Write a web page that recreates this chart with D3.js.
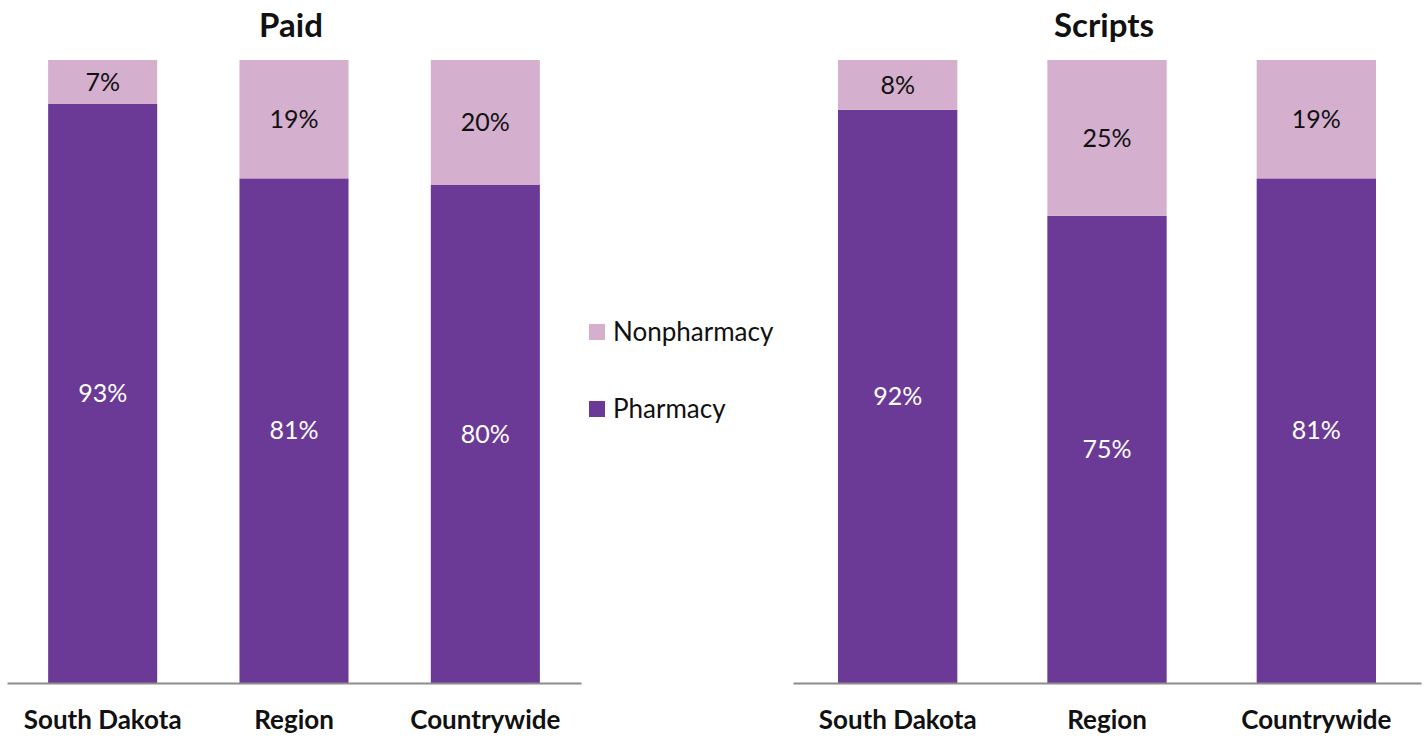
<!DOCTYPE html>
<html>
<head>
<meta charset="utf-8">
<script src="https://cdn.jsdelivr.net/npm/d3@7/dist/d3.min.js"></script>
<style>
  html, body { margin: 0; padding: 0; background: #fff; }
  svg { display: block; }
  text { font-family: Lato, "Open Sans", sans-serif; }
</style>
</head>
<body>
<svg id="chart" width="1426" height="738"></svg>
<script>
// Share of spending and of prescriptions dispensed by pharmacies vs. elsewhere
const categories = ["South Dakota", "Region", "Countrywide"];
const seriesNames = ["Pharmacy", "Nonpharmacy"];
const paidPharmacy = [93, 81, 80];
const paidNonpharmacy = [7, 19, 20];
const scriptsPharmacy = [92, 75, 81];
const scriptsNonpharmacy = [8, 25, 19];
const panelTitles = ["Paid", "Scripts"];

const colors = { Pharmacy: "#6b3a96", Nonpharmacy: "#d4afce" };

const svg = d3.select("#chart");
const plotTop = 60, plotBottom = 683;

const panels = [
  { title: panelTitles[0], pharm: paidPharmacy, non: paidNonpharmacy, x0: 7, x1: 581 },
  { title: panelTitles[1], pharm: scriptsPharmacy, non: scriptsNonpharmacy, x0: 793, x1: 1421 }
];

const y = d3.scaleLinear().domain([0, 100]).range([plotBottom, plotTop]);

panels.forEach(p => {
  const g = svg.append("g");
  const x = d3.scaleBand()
    .domain(categories)
    .range([p.x0, p.x1])
    .paddingInner(0.43)
    .paddingOuter(0.215);

  const rows = categories.map((c, i) => ({ cat: c, Pharmacy: p.pharm[i], Nonpharmacy: p.non[i] }));
  const stacked = d3.stack().keys(seriesNames)(rows);

  stacked.forEach(layer => {
    const key = layer.key;
    g.selectAll(null).data(layer).join("rect")
      .attr("x", d => x(d.data.cat))
      .attr("width", x.bandwidth())
      .attr("y", d => y(d[1]))
      .attr("height", d => y(d[0]) - y(d[1]))
      .attr("fill", colors[key]);

    g.selectAll(null).data(layer).join("text")
      .attr("x", d => x(d.data.cat) + x.bandwidth() / 2)
      .attr("y", d => (y(d[0]) + y(d[1])) / 2)
      .attr("dy", "0.35em")
      .attr("text-anchor", "middle")
      .attr("font-size", 25)
      .attr("fill", key === "Pharmacy" ? "#ffffff" : "#111111")
      .text(d => (d[1] - d[0]) + "%");
  });

  // baseline axis
  const axis = d3.axisBottom(x).tickSize(0).tickPadding(0);
  const ax = g.append("g").attr("transform", `translate(0,${plotBottom})`).call(axis);
  ax.select(".domain").attr("stroke", "#8c8c8c").attr("stroke-width", 2);
  ax.selectAll(".tick text")
    .attr("y", 37)
    .attr("dy", "0.35em")
    .attr("font-size", 26)
    .attr("font-weight", "bold")
    .attr("font-family", "Lato, 'Open Sans', sans-serif")
    .attr("fill", "#111");

  g.append("text")
    .attr("x", (p.x0 + p.x1) / 2 - 3)
    .attr("y", 25)
    .attr("dy", "0.35em")
    .attr("text-anchor", "middle")
    .attr("font-size", 33)
    .attr("font-weight", "bold")
    .attr("fill", "#111")
    .text(p.title);
});

// legend
const legendItems = ["Nonpharmacy", "Pharmacy"];
const legend = svg.append("g");
legendItems.forEach((k, i) => {
  const cy = 332 + i * 77;
  legend.append("rect")
    .attr("x", 589).attr("y", cy - 8)
    .attr("width", 16).attr("height", 16)
    .attr("fill", colors[k]);
  legend.append("text")
    .attr("x", 613).attr("y", cy)
    .attr("dy", "0.35em")
    .attr("font-size", 26)
    .attr("fill", "#111")
    .text(k);
});
</script>
</body>
</html>
